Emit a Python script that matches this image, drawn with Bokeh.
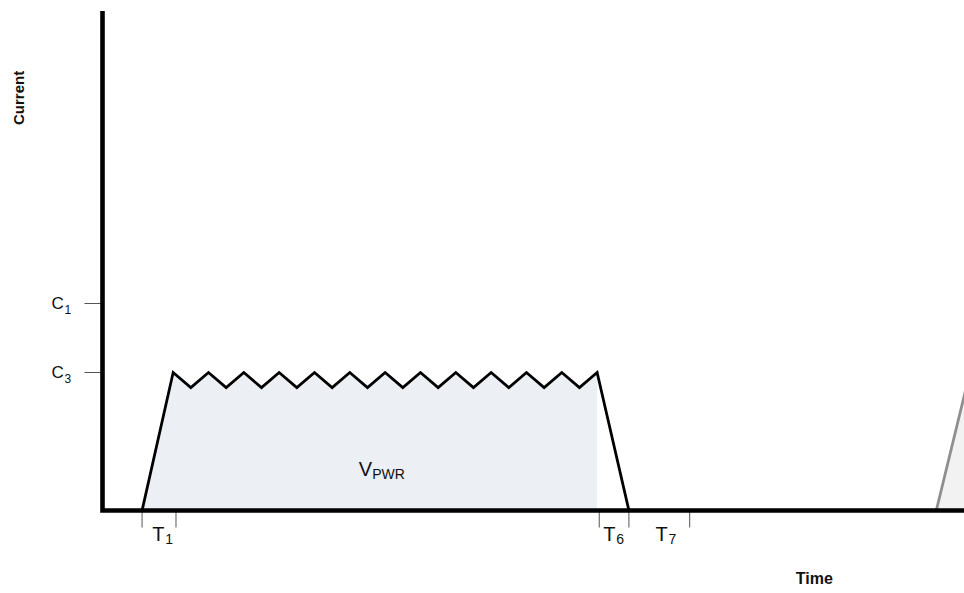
import math
from bokeh.plotting import figure
from bokeh.models import Range1d
from bokeh.core.properties import value
from bokeh.embed import file_html
from bokeh.resources import INLINE

# ---------------- data ----------------
# first current pulse (time in ripple periods, current relative to C3)
pulse_t = [1.12, 2.0, 2.5, 3.0, 3.5, 4.0, 4.5, 5.0, 5.5, 6.0, 6.5, 7.0, 7.5,
           8.0, 8.5, 9.0, 9.5, 10.0, 10.5, 11.0, 11.5, 12.0, 12.5, 13.0, 13.5,
           14.0, 14.9]
pulse_i = [0.0, 1.0, 0.89, 1.0, 0.89, 1.0, 0.89, 1.0, 0.89, 1.0, 0.89, 1.0, 0.89,
           1.0, 0.89, 1.0, 0.89, 1.0, 0.89, 1.0, 0.89, 1.0, 0.89, 1.0, 0.89,
           1.0, 0.0]
# next pulse (grey, starting at the right edge)
next_t = [23.6, 24.55, 25.05, 25.55]
next_i = [0.0, 1.0, 0.89, 1.0]

# current levels (ticks on the current axis)
level_values = [1.5, 1.0]
level_main = ["C", "C"]
level_sub = ["1", "3"]

# time ticks and interval labels
time_ticks = [1.12, 2.08, 14.06, 14.9, 16.62]
interval_t = [1.41, 14.17, 15.65]
interval_main = ["T", "T", "T"]
interval_sub = ["1", "6", "7"]

area_label_t = [7.25]
area_label_i = [0.30]
area_main = ["V"]
area_sub = ["PWR"]

axis_top = 3.62
axis_x_end = 26.0

# ---------------- layout ----------------
W, H = 964, 593
X0_PX, Y0_PX = 102, 510          # position of the axes corner inside the canvas
PX_PER_T, PX_PER_I = 35.33, 138.0
FONT = "Liberation Sans"

p = figure(width=W, height=H, output_backend="svg", toolbar_location=None,
           x_axis_type=None, y_axis_type=None,
           x_range=Range1d(-X0_PX / PX_PER_T, (W - X0_PX) / PX_PER_T),
           y_range=Range1d(-(H - Y0_PX) / PX_PER_I, Y0_PX / PX_PER_I),
           min_border=0, outline_line_color=None)
p.grid.visible = False
p.background_fill_color = "white"
p.border_fill_color = "white"

# filled areas
last_peak = len(pulse_t) - 2
fill_x = pulse_t[:last_peak + 1] + [pulse_t[last_peak]]
fill_y = pulse_i[:last_peak + 1] + [0.0]
p.patch(fill_x, fill_y, fill_color="#ECF0F5", line_color=None)
p.patch(next_t + [next_t[-1]], next_i + [0.0], fill_color="#F2F2F2", line_color=None)

# tick marks
p.ray(x=[0.0] * len(level_values), y=level_values, length=18, length_units="screen",
      angle=math.pi, line_color="#555555", line_width=1)
p.ray(x=time_ticks, y=[0.0] * len(time_ticks), length=17, length_units="screen",
      angle=-math.pi / 2, line_color="#555555", line_width=1)

# waveforms
p.line(pulse_t, pulse_i, line_color="black", line_width=2.8, line_join="miter")
p.line(next_t, next_i, line_color="#8F8F8F", line_width=2.8, line_join="miter")

# axes lines
p.line([0.0, 0.0, axis_x_end], [axis_top, 0.0, 0.0], line_color="black",
       line_width=4.6, line_join="miter")

txt = dict(text_font=value(FONT), text_color="#111111", text_baseline="middle",
           text_align="left")

# current level labels
p.text(x=[0.0] * len(level_values), y=level_values, text=level_main,
       x_offset=-51, y_offset=0, text_font_size="17px", **txt)
p.text(x=[0.0] * len(level_values), y=level_values, text=level_sub,
       x_offset=-38, y_offset=6, text_font_size="12px", **txt)

# interval labels
p.text(x=interval_t, y=[0.0] * len(interval_t), text=interval_main,
       x_offset=0, y_offset=23, text_font_size="20px", **txt)
p.text(x=interval_t, y=[0.0] * len(interval_t), text=interval_sub,
       x_offset=13, y_offset=28, text_font_size="14px", **txt)

# area label
p.text(x=area_label_t, y=area_label_i, text=area_main,
       text_font_size="20px", **txt)
p.text(x=area_label_t, y=area_label_i, text=area_sub, x_offset=13.5, y_offset=5,
       text_font_size="14px", **txt)

# axis titles
p.text(x=[20.15], y=[-0.49], text=["Time"], text_font=value(FONT),
       text_font_style="bold", text_font_size="16px", text_color="#111111",
       text_align="center", text_baseline="middle")
p.text(x=[-2.38], y=[2.99], text=["Current"], text_font=value(FONT),
       text_font_style="bold", text_font_size="15px", text_color="#111111",
       text_align="center", text_baseline="middle", angle=math.pi / 2)

open("out.html", "w").write(file_html(p, INLINE))
